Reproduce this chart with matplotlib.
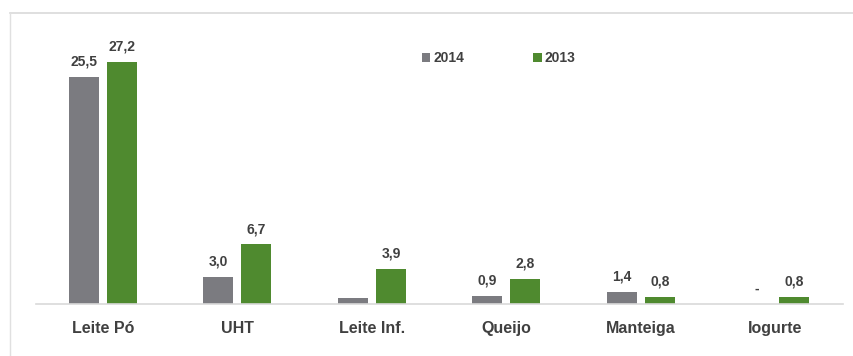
import matplotlib
matplotlib.use("Agg")
import matplotlib.pyplot as plt
import numpy as np

categories = ["Leite Pó", "UHT", "Leite Inf.", "Queijo", "Manteiga", "Iogurte"]
series_names = ["2014", "2013"]
values_2014 = [25.5, 3.0, 0.7, 0.9, 1.4, 0.0]
values_2013 = [27.2, 6.7, 3.9, 2.8, 0.8, 0.8]
labels_2014 = ["25,5", "3,0", "", "0,9", "1,4", "-"]
labels_2013 = ["27,2", "6,7", "3,9", "2,8", "0,8", "0,8"]
colors = ["#7b7b80", "#4f8a2f"]

fam = ["Liberation Sans Narrow", "Liberation Sans", "DejaVu Sans"]
plt.rcParams['font.family'] = fam

W, H = 854, 356
fig = plt.figure(figsize=(W / 100, H / 100), dpi=100)
fig.patch.set_facecolor("white")

# outer frame lines
fig.add_artist(plt.Line2D([10 / W, 1.0], [1 - 13 / H, 1 - 13 / H], color="#d9d9d9", lw=1.2))
fig.add_artist(plt.Line2D([10 / W, 10 / W], [0, 1 - 13 / H], color="#e0e0e0", lw=1.0))

left, right = 35.7, 842.7
bottom, top = 304, 37
ax = fig.add_axes([left / W, 1 - bottom / H, (right - left) / W, (bottom - top) / H])
ax.set_xlim(-0.5, 5.5)
ax.set_ylim(0, 30)

x = np.arange(len(categories))
bw = 0.223
off = 0.141
ax.bar(x - off, values_2014, bw, color=colors[0], label=series_names[0])
ax.bar(x + off, values_2013, bw, color=colors[1], label=series_names[1])

for xi, v, lab in zip(x - off, values_2014, labels_2014):
    if lab:
        ax.annotate(lab, (xi, v), xytext=(0, 6), textcoords="offset points",
                    ha="center", va="bottom", fontsize=10, fontweight="bold", color="#404040")
for xi, v, lab in zip(x + off, values_2013, labels_2013):
    ax.annotate(lab, (xi, v), xytext=(0, 6), textcoords="offset points",
                ha="center", va="bottom", fontsize=10, fontweight="bold", color="#404040")

for s in ["top", "right", "left"]:
    ax.spines[s].set_visible(False)
ax.spines["bottom"].set_color("#d9d9d9")
ax.spines["bottom"].set_linewidth(1.2)
ax.set_yticks([])
ax.set_xticks(x)
ax.set_xticklabels(categories, fontsize=11.5, fontweight="bold", color="#404040")
ax.tick_params(axis="x", length=0, pad=12)

leg = ax.legend(loc="upper left", bbox_to_anchor=((422 - left) / (right - left), (bottom - 51) / (bottom - top)),
                ncol=2, frameon=False, fontsize=10, handlelength=0.6, handleheight=0.6,
                columnspacing=5.0, handletextpad=0.2, borderaxespad=0, borderpad=0)
for t in leg.get_texts():
    t.set_fontweight("bold")
    t.set_color("#404040")

fig.savefig("out.png", dpi=100, facecolor="white")
